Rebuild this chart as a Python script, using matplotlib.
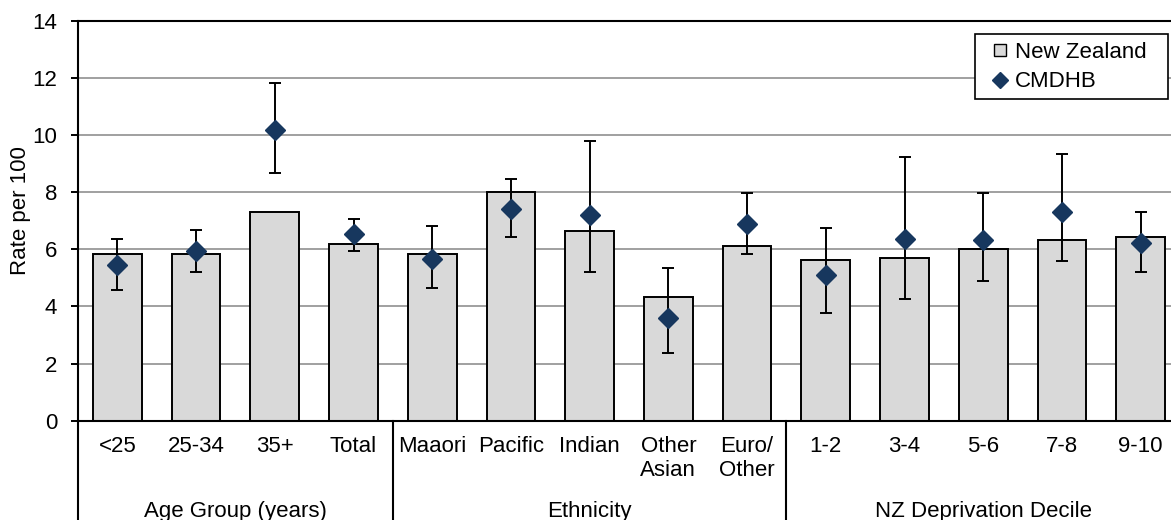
import matplotlib
matplotlib.use("Agg")
import matplotlib.pyplot as plt
from matplotlib.lines import Line2D
from matplotlib.patches import Rectangle

plt.rcParams['font.family'] = ['Liberation Sans', 'DejaVu Sans']

categories = ["<25", "25-34", "35+", "Total",
              "Maaori", "Pacific", "Indian", "Other\nAsian", "Euro/\nOther",
              "1-2", "3-4", "5-6", "7-8", "9-10"]
groups = ["Age Group (years)", "Ethnicity", "NZ Deprivation Decile"]
group_sizes = [4, 5, 5]

nz_rate = [5.82, 5.82, 7.30, 6.18,
           5.82, 7.99, 6.63, 4.34, 6.13,
           5.64, 5.71, 6.01, 6.33, 6.44]
cmdhb_rate = [5.45, 5.95, 10.17, 6.55,
              5.67, 7.42, 7.19, 3.58, 6.90,
              5.11, 6.37, 6.31, 7.29, 6.21]
ci_low = [4.57, 5.19, 8.67, 5.95,
          4.64, 6.44, 5.19, 2.36, 5.82,
          3.77, 4.27, 4.89, 5.58, 5.19]
ci_high = [6.37, 6.67, 11.83, 7.05,
           6.81, 8.47, 9.78, 5.33, 7.98,
           6.74, 9.23, 7.98, 9.35, 7.32]

W, H = 1171, 520
fig = plt.figure(figsize=(W / 100, H / 100), dpi=100)
ax_left, ax_bottom, ax_w, ax_h = 78, 99.3, 1102, 400
ax = fig.add_axes([ax_left / W, ax_bottom / H, ax_w / W, ax_h / H])

x = list(range(len(categories)))
bar_color = "#D9D9D9"
navy = "#17375E"

ax.bar(x, nz_rate, width=0.62, color=bar_color, edgecolor="black", linewidth=1.4, zorder=2)
yerr = [[c - l for c, l in zip(cmdhb_rate, ci_low)],
        [h - c for c, h in zip(cmdhb_rate, ci_high)]]
ax.errorbar(x, cmdhb_rate, yerr=yerr, fmt="none", ecolor="black", elinewidth=1.4,
            capsize=4.3, capthick=1.4, zorder=3)
ax.plot(x, cmdhb_rate, linestyle="none", marker="D", markersize=10.5,
        color=navy, markeredgecolor=navy, zorder=4)

ax.set_xlim(-0.5, len(categories) - 0.5)
ax.set_ylim(0, 14)
ax.set_yticks(range(0, 15, 2))
ax.tick_params(axis="y", labelsize=16, length=5, width=1.4, pad=10, color="black")
ax.yaxis.grid(True, color="#999999", linewidth=1.3, zorder=0)
ax.set_axisbelow(True)
ax.set_xticks([])
for s in ["left", "bottom", "top", "right"]:
    ax.spines[s].set_linewidth(1.5)
    ax.spines[s].set_color("black")

fig.text(21 / W, 1 - 211 / H, "Rate per 100", rotation=90, ha="center", va="center",
         fontsize=16)

trans = ax.get_xaxis_transform()
for xi, lab in zip(x, categories):
    ax.text(xi, -15.5 / ax_h, lab, transform=trans, ha="center", va="top",
            fontsize=16, linespacing=1.2, clip_on=False)

bottom_ax = -ax_bottom / ax_h
start = 0
bounds = [-0.5]
group_y = -(508 - (H - ax_bottom - ax_h) - ax_h) / ax_h
for g, n in zip(groups, group_sizes):
    center = start + (n - 1) / 2
    ax.text(center, group_y - 3 / ax_h, g, transform=trans, ha="center", va="center",
            fontsize=16, clip_on=False)
    start += n
    bounds.append(start - 0.5)
for b in bounds:
    ax.add_line(Line2D([b, b], [0, bottom_ax - 0.05], transform=trans, color="black",
                       linewidth=1.5, clip_on=False))

# legend frame drawn explicitly to match proportions
fx0, fy0, fx1, fy1 = 975, 34, 1168, 99
fig.patches.append(Rectangle((fx0 / W, 1 - fy1 / H), (fx1 - fx0) / W, (fy1 - fy0) / H,
                             transform=fig.transFigure, facecolor="white",
                             edgecolor="black", linewidth=1.2, zorder=5))
handles = [Line2D([], [], linestyle="none", marker="s", markersize=8.5,
                  markerfacecolor=bar_color, markeredgecolor="black", markeredgewidth=1.0),
           Line2D([], [], linestyle="none", marker="D", markersize=8.5,
                  color=navy)]
leg = fig.legend(handles, ["New Zealand", "CMDHB"], loc="center left",
                 bbox_to_anchor=(984 / W, 1 - 67 / H), fontsize=16, frameon=False,
                 handlelength=1.4, handletextpad=0.0, borderpad=0.0,
                 labelspacing=0.4, borderaxespad=0)
leg.set_zorder(6)

fig.savefig("out.png", dpi=100)
